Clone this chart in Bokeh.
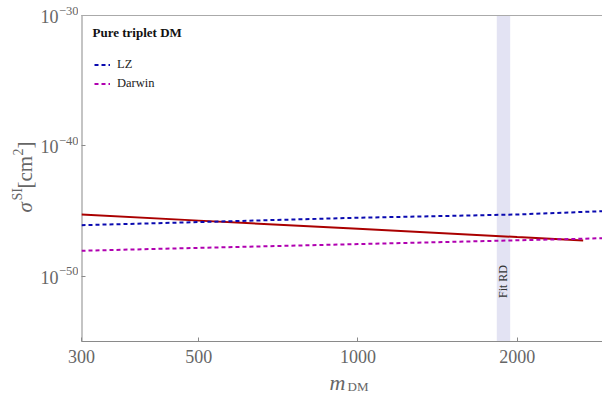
import math
from bokeh.plotting import figure
from bokeh.layouts import row, column
from bokeh.models import FixedTicker, Label, Legend, BoxAnnotation, Span
from bokeh.core.properties import value
from bokeh.embed import file_html
from bokeh.resources import INLINE

# ---- data ----
mass = [300, 500, 1000, 2000, 2900]
lz = [8.32e-47, 1.445e-46, 3.09e-46, 5.50e-46, 9.86e-46]
darwin = [9.12e-49, 1.51e-48, 2.95e-48, 5.75e-48, 8.32e-48]
triplet_mass = [300, 500, 1000, 2000, 2666]
triplet_sigma = [5.50e-46, 1.86e-46, 4.37e-47, 1.02e-47, 5.62e-48]
band_lo, band_hi = 1830, 1940
band_label = "Fit RD"
band_label_y = 4.0e-51
x_ticks = [300, 500, 1000, 2000]
x_tick_labels = ["300", "500", "1000", "2000"]
y_ticks = [1e-50, 1e-40, 1e-30]
y_tick_base = ["10", "10", "10"]
y_tick_exp = ["\u221250", "\u221240", "\u221230"]
legend_title = "Pure triplet DM"
series_names = ["LZ", "Darwin"]

FONT = "Liberation Serif"
GRAY = "#666666"
AXC = "#8a8a8a"

W, H = 602, 396
YW = 78            # left strip (y tick labels + y title)
PH = 342           # plot row height
FL, FT, FB = 81, 15, 341   # visible plot box: left / top / bottom on the page
XR = (300, 2900)
YR = (1e-55, 1e-30)

# both figures of the top row use a frame from the page top to FB; the y range is
# extended above YR[1] so that YR[1] still falls FT pixels below the top.
ly0, ly1 = math.log10(YR[0]), math.log10(YR[1])
y_top = 10 ** (ly1 + (ly1 - ly0) * FT / (FB - FT))

p = figure(width=W - YW, height=PH, x_axis_type="log", y_axis_type="log",
           x_range=XR, y_range=(YR[0], y_top), output_backend="svg", toolbar_location=None,
           title=None, min_border_left=FL - YW, min_border_right=0, min_border_top=0,
           min_border_bottom=PH - FB)
p.grid.visible = False
p.outline_line_color = None

for ax in (p.xaxis[0], p.yaxis[0]):
    ax.axis_line_color = AXC
    ax.major_tick_line_color = AXC
    ax.major_tick_in = 4
    ax.major_tick_out = 0
    ax.minor_tick_line_color = None
    ax.major_label_text_font_size = "1px"
    ax.major_label_text_color = None
    ax.major_label_standoff = 0
p.yaxis[0].axis_line_color = None
p.xaxis[0].ticker = FixedTicker(ticks=x_ticks)
p.yaxis[0].ticker = FixedTicker(ticks=y_ticks)

# left edge and top edge of the plot box
p.segment(x0=[XR[0]], y0=[YR[0]], x1=[XR[0]], y1=[YR[1]], line_color=AXC, line_width=2)
p.add_layout(Span(location=YR[1], dimension="width", line_color="#aaaaaa", line_width=1))

band = BoxAnnotation(left=band_lo, right=band_hi, bottom=YR[0], top=YR[1],
                     fill_color="#e3e3f3", fill_alpha=1.0, line_color=None, level="underlay")
p.add_layout(band)

r_tr = p.line(triplet_mass, triplet_sigma, line_color="#aa0000", line_width=2)
r_lz = p.line(mass, lz, line_color="#0a0ab0", line_width=2, line_dash="4 3")
r_dw = p.line(mass, darwin, line_color="#b000b0", line_width=2, line_dash="4 3")

p.add_layout(Label(x=math.sqrt(band_lo * band_hi), y=band_label_y, text=band_label,
                   angle=math.pi / 2, text_align="center", text_baseline="middle",
                   text_font=FONT, text_font_size="12px", text_color="#333333"))

# legend title (inside the frame, screen units from frame bottom-left)
p.add_layout(Label(x=11, y=309, x_units="screen", y_units="screen", text=legend_title,
                   text_align="left", text_baseline="middle", text_font=FONT,
                   text_font_size="13px", text_font_style="bold", text_color="#111111"))

legend = Legend(items=[(series_names[0], [r_lz]), (series_names[1], [r_dw])],
                location=(13, 248))
legend.label_text_font = FONT
legend.label_text_font_size = "12.5px"
legend.label_text_color = "#222222"
legend.glyph_width = 16
legend.glyph_height = 19
legend.label_height = 19
legend.label_standoff = 7
legend.spacing = 0
legend.margin = 0
legend.padding = 0
legend.border_line_color = None
legend.background_fill_alpha = 0
p.add_layout(legend)


def strip(width, height, x_range, y_range, x_type="linear", y_type="linear", **borders):
    f = figure(width=width, height=height, x_range=x_range, y_range=y_range,
               x_axis_type=x_type, y_axis_type=y_type, title=None,
               output_backend="svg", toolbar_location=None,
               x_axis_location=None, y_axis_location=None, **borders)
    f.grid.visible = False
    f.outline_line_color = None
    return f


# ---- left strip: y tick labels (same log scale as the plot) + y title ----
yfig = strip(YW, PH, (0, YW), (YR[0], y_top), y_type="log",
             min_border_left=0, min_border_right=0, min_border_top=0,
             min_border_bottom=PH - FB)
yfig.text(x=[58] * len(y_ticks), y=y_ticks, text=y_tick_base, text_align="right",
          text_baseline="middle", y_offset=1, text_font=value(FONT), text_font_size="18px",
          text_color=GRAY)
yfig.text(x=[58.5] * len(y_ticks), y=y_ticks, text=y_tick_exp, text_align="left",
          text_baseline="middle", y_offset=-5, text_font=value(FONT), text_font_size="12.5px",
          text_color=GRAY)

# y title: sigma^SI [cm^2], rotated, built from pieces (screen units, frame bottom-left)
y_pieces = ["\u03c3", "SI", "[cm", "2", "]"]
y_piece_start = [212, 200, 188, 155, 148]         # page y where each piece starts
y_piece_mid = [24, 17, 24, 17, 24]                # page x of the text's middle line
y_piece_size = ["21px", "14px", "21px", "14px", "21px"]
y_piece_style = ["italic", "normal", "normal", "normal", "normal"]
for t, s, b, sz, st in zip(y_pieces, y_piece_start, y_piece_mid, y_piece_size, y_piece_style):
    yfig.add_layout(Label(x=b, y=FB - s, x_units="screen", y_units="screen", text=t,
                          angle=math.pi / 2, text_align="left", text_baseline="middle",
                          text_font=FONT, text_font_size=sz, text_font_style=st,
                          text_color=GRAY))

# ---- bottom strip: x tick labels (same log scale, frame extended to page left) ----
lx0, lx1 = math.log10(XR[0]), math.log10(XR[1])
strip_left = 10 ** (lx0 - (lx1 - lx0) * FL / (W - FL))
XH = H - PH
xfig = strip(W, XH, (strip_left, XR[1]), (0, XH), x_type="log",
             min_border_left=0, min_border_right=0, min_border_top=0, min_border_bottom=0)
xfig.text(x=x_ticks, y=[H - 356] * len(x_ticks), text=x_tick_labels, text_align="center",
          text_baseline="middle", text_font=value(FONT), text_font_size="18px",
          text_color=GRAY)

x_pieces = ["m", "DM"]
x_piece_left = [329, 347]
x_piece_mid = [382, 386]
x_piece_size = ["22px", "13px"]
x_piece_style = ["italic", "normal"]
for t, l, m, sz, st in zip(x_pieces, x_piece_left, x_piece_mid, x_piece_size, x_piece_style):
    xfig.add_layout(Label(x=l, y=H - m, x_units="screen", y_units="screen", text=t,
                          text_align="left", text_baseline="middle", text_font=FONT,
                          text_font_size=sz, text_font_style=st, text_color=GRAY))

page = column(row(yfig, p, spacing=0), xfig, spacing=0)

open("out.html", "w").write(file_html(page, INLINE))
